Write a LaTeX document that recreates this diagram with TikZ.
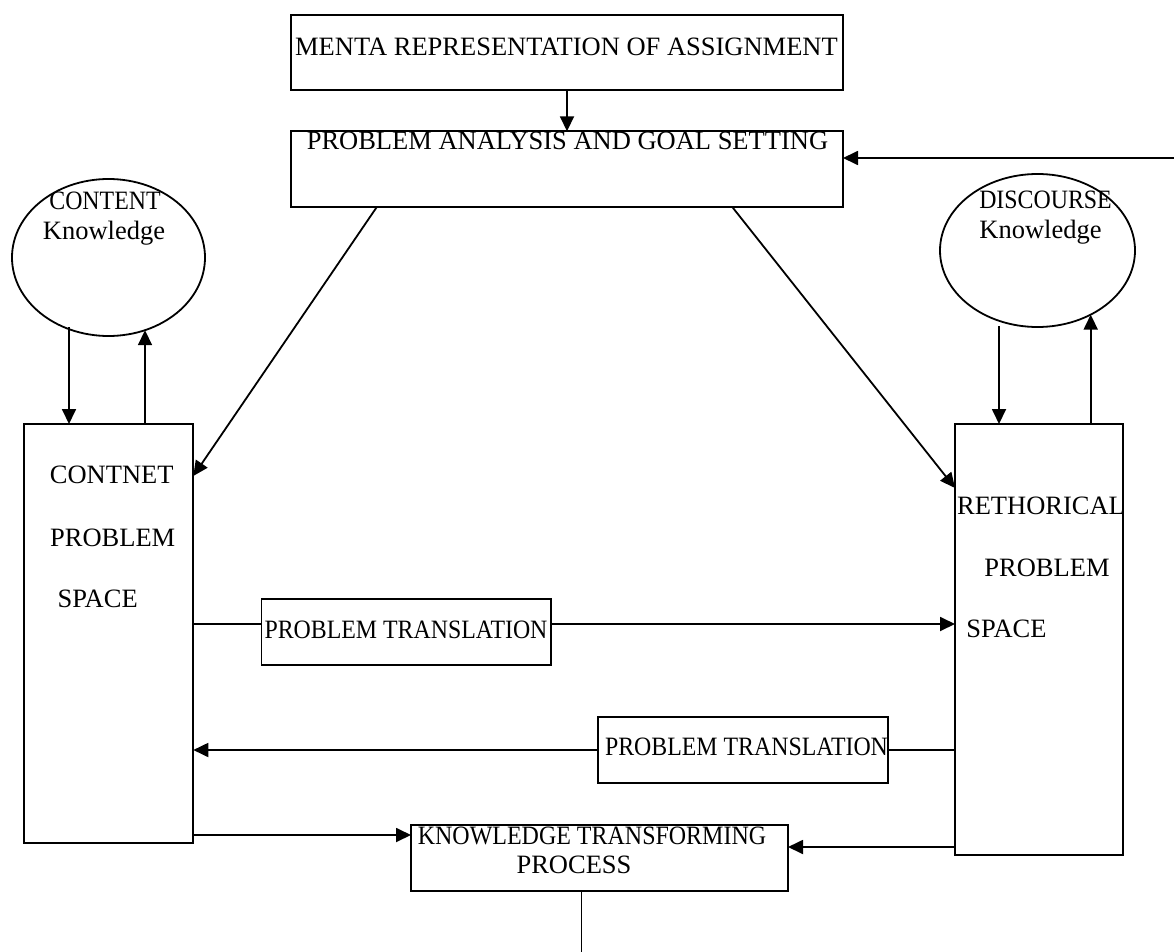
\documentclass[tikz,border=0pt]{standalone}
\usepackage{fontspec}
\setmainfont{Liberation Serif}
\usepackage{graphicx}
\usetikzlibrary{arrows.meta,calc,shapes.geometric}
% horizontally condensed label text
\newcommand{\squeezetext}[2][0.9]{\scalebox{#1}[1]{#2}}
\begin{document}
\begin{tikzpicture}[x=1pt,y=-1pt,
  line width=1.8pt,
  box/.style={draw, rectangle, inner sep=0pt, outer sep=0pt},
  oval/.style={draw, ellipse, inner sep=0pt, outer sep=0pt},
  txt/.style={anchor=base, inner sep=0pt, font=\fontsize{26.5}{30}\selectfont},
  arr/.style={-{Triangle[length=15pt,width=14pt]}}
]
\useasboundingbox (0,0) rectangle (1174,952);

% boxes
\node[box, minimum width=552pt, minimum height=75.6pt] (menta) at (567,52.5) {};
\node[box, minimum width=552pt, minimum height=76pt] (goal) at (567,169.3) {};
\node[box, minimum width=169.3pt, minimum height=419pt] (cbox) at (108.65,633.5) {};
\node[box, minimum width=168pt, minimum height=431pt] (rbox) at (1039,639.5) {};
\node[box, minimum width=289.6pt, minimum height=66pt] (trans1) at (406.2,632) {};
\node[box, minimum width=290pt, minimum height=66pt] (trans2) at (743,750) {};
\node[box, minimum width=377pt, minimum height=66pt] (ktp) at (599.5,858) {};

% knowledge ovals
\node[oval, minimum width=193pt, minimum height=157pt] (cell) at (108.5,257.5) {};
\node[oval, minimum width=195pt, minimum height=153pt] (rell) at (1037.5,250.5) {};

% labels
\node[txt] (tmenta) at (566.5,56) {MENTA REPRESENTATION OF ASSIGNMENT};
\node[txt] (tgoal) at (567.5,150) {PROBLEM ANALYSIS AND GOAL SETTING};
\node[txt] (tcont) at (105,209) {\squeezetext{CONTENT}};
\node[txt] (tck) at (104,239) {Knowledge};
\node[txt] (tdisc) at (1045.5,208) {\squeezetext{DISCOURSE}};
\node[txt] (tdk) at (1040.5,238) {Knowledge};
\node[txt] (tc1) at (111.7,483.5) {CONTNET};
\node[txt] (tc2) at (112.7,546) {PROBLEM};
\node[txt] (tc3) at (97.7,607) {SPACE};
\node[txt] (tr1) at (1041,514) {RETHORICAL};
\node[txt] (tr2) at (1047,576) {PROBLEM};
\node[txt] (tr3) at (1006.5,637) {SPACE};
\node[txt] (tt1) at (406,638) {\squeezetext{PROBLEM TRANSLATION}};
\node[txt] (tt2) at (746.5,755) {\squeezetext{PROBLEM TRANSLATION}};
\node[txt] (tk1) at (592,844) {\squeezetext[0.905]{KNOWLEDGE TRANSFORMING}};
\node[txt] (tk2) at (574,873) {PROCESS};

% connectors
\draw[arr] (menta.south) -- (goal.north);
\coordinate (feedback) at (1174,158);
\draw[arr] (feedback) -- (feedback -| goal.east);
\draw[arr] ($(goal.south west)+(85.6,0)$) -- ($(cbox.north east)+(0,52)$);
\draw[arr] ($(goal.south west)+(441.5,0)$) -- ($(rbox.north west)+(0,64)$);

% exchanges between knowledge ovals and problem spaces
\coordinate (cdown) at ($(cell.center)+(-39.5,69.5)$);
\coordinate (cup) at ($(cell.center)+(36.5,72.7)$);
\coordinate (rdown) at ($(rell.center)+(-38.5,75.5)$);
\coordinate (rup) at ($(rell.center)+(53.2,64.1)$);
\draw[arr] (cdown) -- (cdown |- cbox.north);
\draw[arr] (cup |- cbox.north) -- (cup);
\draw[arr] (rdown) -- (rdown |- rbox.north);
\draw[arr] (rup |- rbox.north) -- (rup);

\coordinate (t1l) at ($(trans1.west)+(0,-8)$);
\coordinate (t1r) at ($(trans1.east)+(0,-8)$);
\draw (t1l -| cbox.east) -- (t1l);
\draw[arr] (t1r) -- (t1r -| rbox.west);

\draw (trans2.east -| rbox.west) -- (trans2.east);
\draw[arr] (trans2.west) -- (trans2.west -| cbox.east);

\coordinate (k1) at ($(ktp.west)+(0,-23)$);
\coordinate (k2) at ($(ktp.east)+(0,-11)$);
\draw[arr] (k1 -| cbox.east) -- (k1);
\draw[arr] (k2 -| rbox.west) -- (k2);

\coordinate (kend) at (581.5,952);
\draw (kend |- ktp.south) -- (kend);
\end{tikzpicture}
\end{document}
